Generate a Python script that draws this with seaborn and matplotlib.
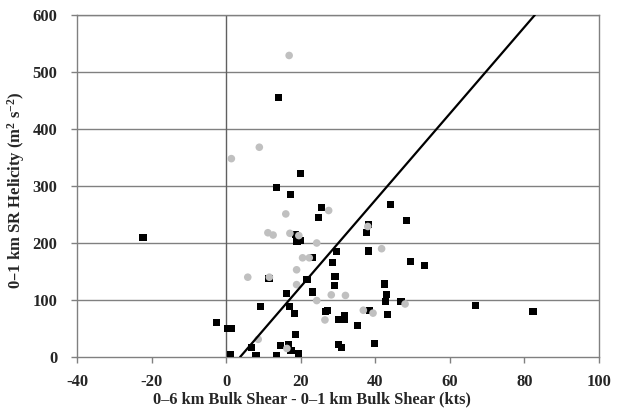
import numpy as np
import pandas as pd
import matplotlib
matplotlib.use("Agg")
import matplotlib.pyplot as plt
import seaborn as sns

# Black squares: shear difference (kts) and 0-1 km SR helicity (m2 s-2)
black_shear = [-22.3, 14.0, 19.9, 13.6, 17.2, 25.7, 24.7, 18.5, 19.0, 19.9,
               29.6, 23.2, 28.5, 29.2, 29.0, 21.7, 11.5, 23.1, 16.3, 9.3,
               16.9, 18.3, 26.7, 27.3, 30.2, -2.6, 0.35, 1.3, 18.5, 6.8,
               14.7, 16.8, 17.4, 1.2, 8.0, 13.4, 19.4, 30.2, 31.0, 44.2,
               48.3, 38.2, 37.7, 38.3, 49.5, 53.2, 42.4, 42.9, 42.7, 46.9,
               66.9, 82.3, 38.5, 31.8, 31.8, 43.2, 35.3, 39.7]
black_srh = [210, 456, 322, 298, 285, 263, 244, 215, 202, 204,
             185, 174, 166, 142, 126, 136, 138, 114, 112, 89,
             89, 76, 80, 81, 65, 60, 50, 50, 40, 17,
             20, 22, 12, 5, 2, 2, 6, 22, 16, 268,
             240, 233, 219, 186, 167, 160, 128, 110, 98, 97,
             91, 80, 81, 72, 65, 74, 56, 24]

# Gray circles
gray_shear = [16.9, 8.9, 1.4, 16.0, 27.5, 11.2, 12.6, 17.1, 19.5, 24.3,
              20.5, 22.3, 18.9, 5.8, 11.6, 18.9, 24.3, 28.2, 26.5, 8.6,
              16.3, 38.0, 41.7, 32.0, 36.8, 39.4, 48.0]
gray_srh = [529, 368, 348, 251, 257, 218, 214, 217, 213, 200,
            174, 174, 153, 140, 140, 127, 99, 109, 65, 31,
            15, 229, 190, 108, 82, 77, 93]

# Linear discriminant line: SRH = slope * (shear - x_intercept)
line_slope = 7.59
line_x_intercept = 3.75

x_ticks = [-40, -20, 0, 20, 40, 60, 80, 100]
y_ticks = [0, 100, 200, 300, 400, 500, 600]

sns.set_theme(style="white")
plt.rcParams["font.family"] = ["Liberation Serif", "DejaVu Serif"]
plt.rcParams["font.weight"] = "bold"
plt.rcParams["mathtext.default"] = "regular"

fig = plt.figure(figsize=(6.18, 4.12), dpi=100)
ax = fig.add_axes([0.1246, 0.1335, 0.9692 - 0.1246, 0.9636 - 0.1335])

grid_c = "#808080"
for y in y_ticks[1:]:
    ax.axhline(y, color=grid_c, lw=1.0, zorder=0)
ax.axvline(0, color="#606060", lw=1.0, zorder=0)

black_df = pd.DataFrame({"shear": black_shear, "srh": black_srh})
gray_df = pd.DataFrame({"shear": gray_shear, "srh": gray_srh})

sns.scatterplot(data=black_df, x="shear", y="srh", marker="s", s=26,
                color="black", edgecolor="none", ax=ax, zorder=3)
sns.scatterplot(data=gray_df, x="shear", y="srh", marker="o", s=30,
                color="#c0c0c0", edgecolor="none", ax=ax, zorder=4)

line_top = 600.0
line_x = np.array([line_x_intercept, line_x_intercept + line_top / line_slope])
line_df = pd.DataFrame({"shear": line_x, "srh": line_slope * (line_x - line_x_intercept)})
sns.lineplot(data=line_df, x="shear", y="srh", color="black", lw=1.6, ax=ax, zorder=5)

ax.set_xlim(-40, 100)
ax.set_ylim(0, 600)
ax.set_xticks(x_ticks)
ax.set_yticks(y_ticks)
ax.set_xticklabels([str(t) for t in x_ticks], fontsize=12, fontweight="bold")
ax.set_yticklabels([str(t) for t in y_ticks], fontsize=12, fontweight="bold")
ax.tick_params(axis="both", which="both", direction="out", length=4, width=1,
               color=grid_c)
ax.tick_params(axis="x", bottom=True, pad=8)
ax.tick_params(axis="y", left=True, pad=10)
for sp in ax.spines.values():
    sp.set_color(grid_c)
    sp.set_linewidth(1.0)

ax.set_xlabel("0–6 km Bulk Shear - 0–1 km Bulk Shear (kts)", fontsize=11.8,
              fontweight="bold")
ax.xaxis.set_label_coords(0.451, -0.10)
ax.set_ylabel("0–1 km SR Helicity (m$^{2}$ s$^{-2}$)", fontsize=12,
              fontweight="bold")
ax.yaxis.set_label_coords(-0.096, 0.488)

fig.savefig("out.png", dpi=100)
